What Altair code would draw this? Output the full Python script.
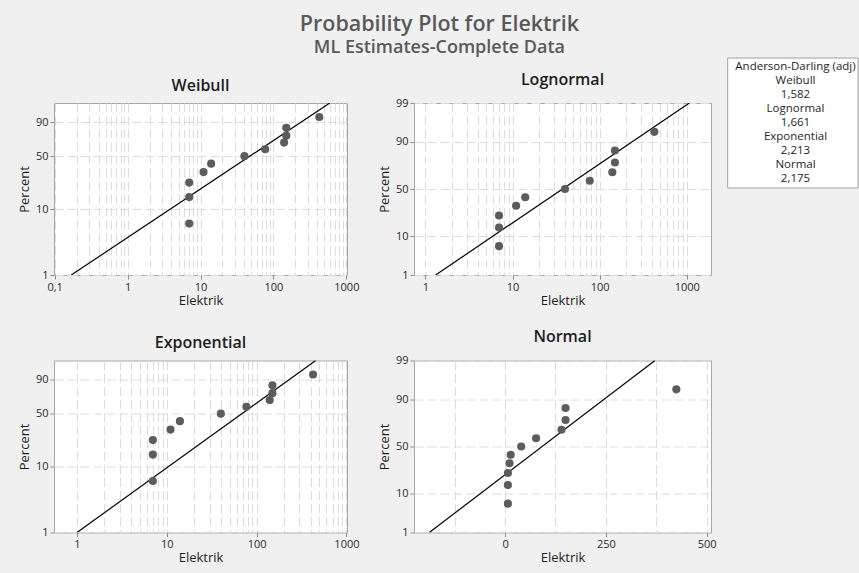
import math
from statistics import NormalDist

import altair as alt
import pandas as pd

# ---------------- data ----------------
elektrik = [7, 7, 7, 11, 14, 40, 77, 140, 150, 150, 425]
percent = [6.1, 14.9, 23.7, 32.5, 41.2, 50.0, 58.8, 67.5, 76.3, 85.1, 93.9]

fit_percent = [1, 99]
fit_weibull = [0.169, 592]
fit_lognormal = [1.31, 1072]
fit_exponential = [1.0, 455]
fit_normal = [-188, 372]

ad_names = ["Weibull", "Lognormal", "Exponential", "Normal"]
ad_values = ["1,582", "1,661", "2,213", "2,175"]

weibull_pct_ticks = [1, 10, 50, 90]
normal_pct_ticks = [1, 10, 50, 90, 99]
log_x_ticks = [k * 10.0 ** e for e in range(-1, 3) for k in range(1, 10)] + [1000.0]
lin_x_ticks = [-125, 0, 125, 250, 375, 500]

FONT = "Open Sans"
GRID = "#dcdcdc"

pts = pd.DataFrame({"Elektrik": elektrik, "pct": percent})


def weib(p):
    return math.log(-math.log(1 - p / 100.0))


def norm(p):
    return NormalDist().inv_cdf(p / 100.0)


WEIB_EXPR = "log(-log(1 - datum.pct/100))"
NORM_EXPR = "quantileNormal(datum.pct/100)"
WEIB_LABEL = "format(100*(1-exp(-exp(datum.value))), '.0f')"
NORM_LABEL = "format(100*cumulativeNormal(datum.value), '.0f')"

LOG_MAJOR = "abs(log(datum.value)/LN10 - round(log(datum.value)/LN10)) < 0.001"
LOG_LABEL = f"{LOG_MAJOR} ? replace(toString(datum.value), '.', ',') : ''"
LIN_MAJOR = "datum.value % 250 == 0"
LIN_LABEL = f"{LIN_MAJOR} ? toString(datum.value) : ''"


def panel(title, fit_x, x_scale, x_values, x_major, x_label, y_expr, y_fn,
          y_ticks, y_label, width):
    fit = pd.DataFrame({"Elektrik": fit_x, "pct": fit_percent})
    x = alt.X(
        "Elektrik:Q",
        scale=x_scale,
        axis=alt.Axis(
            title="Elektrik", values=x_values, labelExpr=x_label,
            grid=True, gridDash=[9, 4], gridColor=GRID,
            tickOpacity={"condition": {"test": x_major, "value": 1}, "value": 0},
            labelOverlap=False, labelFlush=False,
        ),
    )
    y = alt.Y(
        "y:Q",
        scale=alt.Scale(domain=[y_fn(1), y_fn(99)], nice=False, zero=False),
        axis=alt.Axis(
            title="Percent", values=[y_fn(p) for p in y_ticks], labelExpr=y_label,
            grid=True, gridDash=[9, 4], gridColor=GRID,
            labelOverlap=False, labelFlush=False,
        ),
    )
    line = alt.Chart(fit).transform_calculate(y=y_expr).mark_line(
        color="black", strokeWidth=1.2, clip=True
    ).encode(x=x, y=y)
    dots = alt.Chart(pts).transform_calculate(y=y_expr).mark_circle(
        size=66, color="#5c5c5c", opacity=1
    ).encode(x=x, y=y)
    return alt.layer(line, dots).properties(
        width=width, height=172,
        title=alt.Title(title, fontSize=16, fontWeight=600, font=FONT,
                        color="#1e1e1e", offset=9.5),
    )


# Anderson-Darling box: a view of its own in the third column
ad_lines = ["Anderson-Darling (adj)"]
for n, v in zip(ad_names, ad_values):
    ad_lines += [n, v]
box_df = pd.DataFrame({"k": [0]})
ad_box = alt.Chart(box_df).mark_rect(
    fill="white", stroke="#a0a0a0", strokeWidth=1
).encode(x=alt.value(-50.3), x2=alt.value(80), y=alt.value(-45), y2=alt.value(85))
ad_text = alt.Chart(box_df).mark_text(
    font=FONT, fontSize=11.5, color="#1e1e1e", align="center", baseline="middle",
    lineHeight=14.1,
).encode(x=alt.value(17.5), y=alt.value(-36.3), text=alt.value(ad_lines))
legend_view = alt.layer(ad_box, ad_text).properties(
    width=80, height=172,
    view=alt.ViewBackground(fill="transparent", stroke="transparent"),
)

weibull = panel(
    "Weibull", fit_weibull,
    alt.Scale(type="log", domain=[0.098, 1020], nice=False), log_x_ticks,
    LOG_MAJOR, LOG_LABEL, WEIB_EXPR, weib, weibull_pct_ticks, WEIB_LABEL, 293,
)
lognormal = panel(
    "Lognormal", fit_lognormal,
    alt.Scale(type="log", domain=[0.74, 1900], nice=False),
    [v for v in log_x_ticks if v >= 1], LOG_MAJOR, LOG_LABEL,
    NORM_EXPR, norm, normal_pct_ticks, NORM_LABEL, 297,
)
exponential = panel(
    "Exponential", fit_exponential,
    alt.Scale(type="log", domain=[0.555, 1015], nice=False),
    [v for v in log_x_ticks if v >= 1], LOG_MAJOR, LOG_LABEL,
    WEIB_EXPR, weib, weibull_pct_ticks, WEIB_LABEL, 293,
)
normal = panel(
    "Normal", fit_normal,
    alt.Scale(domain=[-226, 511], nice=False, zero=False), lin_x_ticks,
    LIN_MAJOR, LIN_LABEL, NORM_EXPR, norm, normal_pct_ticks, NORM_LABEL, 297,
)

chart = alt.concat(
    weibull, lognormal, legend_view, exponential, normal,
    columns=3, spacing={"row": 85.5, "column": 67}, bounds="flush",
    title=alt.Title(
        "Probability Plot for Elektrik", subtitle="ML Estimates-Complete Data",
        anchor="middle", font=FONT, fontSize=21.5, fontWeight=600, color="#595959",
        subtitleFont=FONT, subtitleFontSize=18, subtitleFontWeight=600,
        subtitleColor="#595959", subtitlePadding=3, offset=0.3, dx=1,
    ),
    padding={"left": 17, "top": 14, "right": 0, "bottom": 8},
    background="#f0f0f0",
).configure_view(
    fill="white", stroke="#a6a6a6", strokeWidth=1
).configure_axis(
    domain=False, tickColor="#8c8c8c", tickSize=4, tickWidth=1,
    labelFont=FONT, labelFontSize=11, labelColor="#2a2a2a", labelPadding=2,
    titleFont=FONT, titleFontSize=13, titleFontWeight=500, titleColor="#1e1e1e",
).configure_axisY(titlePadding=4).configure_axisX(titlePadding=2)

chart.save("out.html", embed_options={"renderer": "svg", "actions": False})
